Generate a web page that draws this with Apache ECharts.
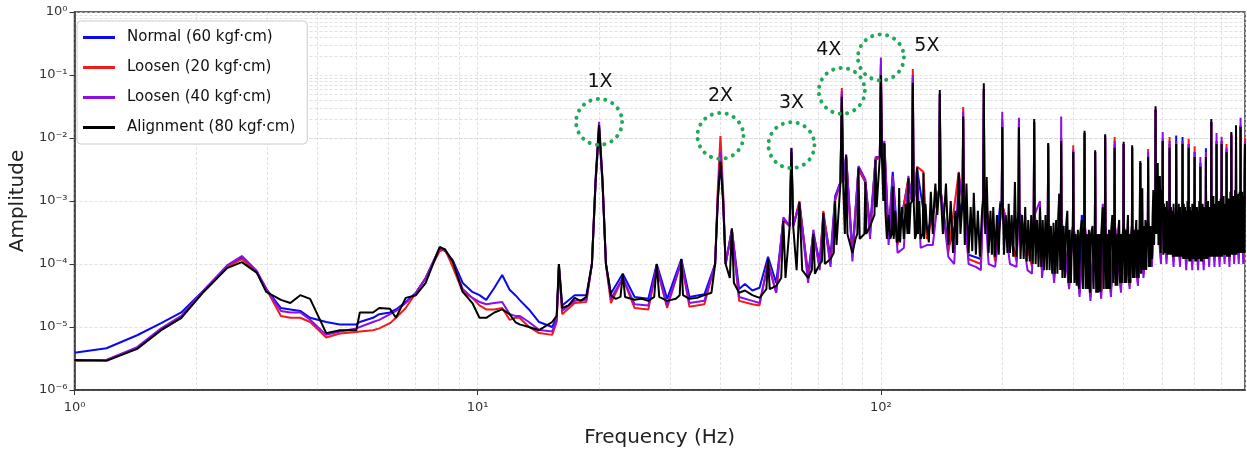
<!DOCTYPE html>
<html>
<head>
<meta charset="utf-8">
<script src="https://cdn.jsdelivr.net/npm/echarts@6/dist/echarts.min.js"></script>
<style>
  html, body { margin: 0; padding: 0; background: #fff; }
  #chart { width: 1247px; height: 454px; }
</style>
</head>
<body>
<div id="chart"></div>
<script>
// low frequency part, shared grid (Hz)
const lowFreq = [1, 1.2, 1.43, 1.64, 1.84, 2.09, 2.39, 2.6, 2.83, 2.99, 3.25, 3.43, 3.63, 3.84, 4.21, 4.55, 5.0, 5.1, 5.5, 5.7,
  6.06, 6.27, 6.63, 7.03, 7.43, 8.05, 8.3, 8.67, 9.18, 9.7, 10.1, 10.5, 11.0, 11.5, 12.0, 12.4, 12.7, 13.4, 14.2, 15.3];

const normalLow = [3.9e-6, 4.6e-6, 7.4e-6, 1.15e-5, 1.7e-5, 3.8e-5, 9e-5, 1.25e-4, 7.5e-5, 4e-5, 2e-5, 1.9e-5, 1.8e-5, 1.4e-5, 1.2e-5, 1.1e-5, 1.1e-5, 1.2e-5, 1.4e-5, 1.6e-5,
  1.7e-5, 1.9e-5, 2.5e-5, 3.5e-5, 6e-5, 1.8e-4, 1.6e-4, 1.15e-4, 5e-5, 3.6e-5, 3.2e-5, 2.7e-5, 4.2e-5, 6.7e-5, 3.9e-5, 3.2e-5, 2.7e-5, 1.9e-5, 1.2e-5, 1e-5];
const loose20Low = [2.9e-6, 3.0e-6, 4.6e-6, 9e-6, 1.4e-5, 3.7e-5, 9e-5, 1.2e-4, 7.5e-5, 4e-5, 1.5e-5, 1.4e-5, 1.4e-5, 1.2e-5, 6.8e-6, 7.9e-6, 8.3e-6, 8.5e-6, 8.9e-6, 9.5e-6,
  1.15e-5, 1.4e-5, 2e-5, 3.5e-5, 6e-5, 1.6e-4, 1.7e-4, 9e-5, 3.6e-5, 2.9e-5, 2.2e-5, 1.9e-5, 1.9e-5, 2e-5, 1.3e-5, 1.4e-5, 1.4e-5, 1e-5, 8e-6, 7.5e-6];
const loose40Low = [2.9e-6, 3.0e-6, 4.8e-6, 9.5e-6, 1.5e-5, 3.8e-5, 9.5e-5, 1.34e-4, 7.8e-5, 4e-5, 1.8e-5, 1.7e-5, 1.7e-5, 1.3e-5, 7.5e-6, 8.5e-6, 9.5e-6, 1e-5, 1.2e-5, 1.3e-5,
  1.6e-5, 1.8e-5, 2.4e-5, 3.5e-5, 6e-5, 1.8e-4, 1.65e-4, 1.1e-4, 4e-5, 2.9e-5, 2.5e-5, 2.3e-5, 2.4e-5, 2.5e-5, 1.6e-5, 1.5e-5, 1.5e-5, 1.2e-5, 9e-6, 8.5e-6];
const alignLow = [3.0e-6, 2.9e-6, 4.5e-6, 8.9e-6, 1.4e-5, 3.6e-5, 8.6e-5, 1.07e-4, 7.3e-5, 3.6e-5, 2.7e-5, 2.4e-5, 3.2e-5, 2.8e-5, 8.0e-6, 8.9e-6, 8.9e-6, 1.7e-5, 1.7e-5, 2.0e-5,
  1.95e-5, 1.4e-5, 2.9e-5, 3.2e-5, 5e-5, 1.87e-4, 1.7e-4, 1.1e-4, 3.6e-5, 2.4e-5, 1.4e-5, 1.4e-5, 1.7e-5, 1.9e-5, 1.6e-5, 1.2e-5, 1.1e-5, 1.0e-5, 8.9e-6, 1.2e-5];

// harmonic region, [freq Hz, amplitude]
const normalHigh = [[15.7,1.4e-5],[15.9,1e-4],[16.2,2.2e-5],[17.4,3.2e-5],[18.6,3.2e-5],[19.2,1e-4],[19.6,1.8e-3],[20,1.4e-2],[20.4,1.8e-3],[20.8,1e-4],[21.4,3.4e-5],[22.9,7e-5],[24.5,3e-5],[26.5,2.8e-5],[27.8,1e-4],[29.5,2.8e-5],[32,1.2e-4],[33.5,3e-5],[36.5,3.3e-5],[38.8,1e-4],[39.4,1.1e-3],[40,5e-3],[40.6,1.1e-3],[41.2,1e-4],[42.7,3.5e-4],[44.5,4e-5],[46,4.8e-5],[48,3.8e-5],[50,4.2e-5],[52.5,1.3e-4],[55,5e-5],[57.3,5e-4],[59.4,4e-4],[60,5.5e-3],[60.6,4e-4],[62.8,9e-4],[66,7e-5],[68,3e-4],[70.5,1.1e-4],[72,6e-4],[75,1.3e-4],[77,1.2e-3],[79.4,2e-3],[80,5e-2],[80.6,2e-3],[82,5e-3],[85,1.6e-4],[88,3.2e-3],[91.5,2e-3],[94,4e-4],[97,4.5e-3],[99.4,5e-3],[100,0.14],[100.6,5e-3],[102,8e-3],[104.5,3e-4],[107,2.9e-3],[110,2.5e-4],[117,2.2e-3],[119.4,1e-3],[120,9e-2],[120.6,1e-3],[123,3.2e-3],[130,3e-4],[139.4,1.5e-3],[140,5e-2],[140.6,1.5e-3],[147,1.8e-4],[159.4,1e-3],[160,2e-2],[160.6,1e-3],[165,1.4e-4],[177,1.2e-4],[179.4,1.2e-3],[180,6e-2],[180.6,1.2e-3],[192,1.3e-4],[198,1e-3],[199.4,8e-4],[200,1.8e-2],[200.6,8e-4],[217,1.2e-4],[219.4,7e-4],[220,2e-2],[220.6,7e-4],[237,1e-4],[239.4,6e-4],[240,1.8e-2],[240.6,6e-4],[251,9e-5],[259.4,5e-4],[260,7.5e-3],[260.6,5e-4],[269,7e-5],[279.4,5e-4],[280,1e-2],[280.6,5e-4],[293,5e-5],[299.4,4e-4],[300,6e-3],[300.6,4e-4],[311,4e-5],[315,6e-4],[319.4,4e-4],[320,1.2e-2],[320.6,4e-4],[331,3.6e-5],[339.4,3e-4],[340,6e-3],[340.6,3e-4],[352,3.8e-5],[359.4,4e-4],[360,1e-2],[360.6,4e-4],[372,4e-5],[379.4,4e-4],[380,8e-3],[380.6,4e-4],[394,5e-5],[399.4,4e-4],[400,8e-3],[400.6,4e-4],[414,5e-5],[419.4,4e-4],[420,7e-3],[420.6,4e-4],[434,6e-5],[439.4,4e-4],[440,4e-3],[440.6,4e-4],[448,8e-5],[459.4,5e-4],[460,5.5e-3],[460.6,5e-4],[470,1.1e-4],[479.4,1.5e-3],[480,2.8e-2],[480.6,1.5e-3],[495,1.4e-4],[499.4,1e-3],[500,9e-3],[500.6,1e-3],[511,1.4e-4],[519.4,8e-4],[520,8e-3],[520.6,8e-4],[532,1.3e-4],[539.4,8e-4],[540,1.1e-2],[540.6,8e-4],[552,1.3e-4],[559.4,8e-4],[560,1.04e-2],[560.6,8e-4],[572,1.2e-4],[579.4,8e-4],[580,8e-3],[580.6,8e-4],[592,1.2e-4],[599.4,7e-4],[600,6e-3],[600.6,7e-4],[612,1.2e-4],[619.4,6e-4],[620,4e-3],[620.6,6e-4],[632,1.2e-4],[639.4,7e-4],[640,6.9e-3],[640.6,7e-4],[652,1.3e-4],[659.4,1e-3],[660,1.8e-2],[660.6,1e-3],[672,1.3e-4],[679.4,8e-4],[680,9e-3],[680.6,8e-4],[692,1.3e-4],[699.4,9e-4],[700,9e-3],[700.6,9e-4],[712,1.4e-4],[719.4,8e-4],[720,6.5e-3],[720.6,8e-4],[732,1.3e-4],[739.4,1e-3],[740,1.1e-2],[740.6,1e-3],[752,1.4e-4],[759.4,1.2e-3],[760,1.4e-2],[760.6,1.2e-3],[772,1.4e-4],[779.4,1.3e-3],[780,1.6e-2],[780.6,1.3e-3],[792,1.4e-4],[800,9e-3]];

const loose20High = [[15.7,1.2e-5],[15.9,9e-5],[16.2,1.6e-5],[17.4,2.4e-5],[18.6,2.5e-5],[19.2,1e-4],[19.6,2e-3],[20,1.5e-2],[20.4,2e-3],[20.8,1e-4],[21.4,2.4e-5],[22.9,6e-5],[24.5,2e-5],[26.5,1.9e-5],[27.8,9e-5],[29.5,2e-5],[32,1.1e-4],[33.5,2.1e-5],[36.5,2.3e-5],[38.8,1e-4],[39.4,1.5e-3],[40,1.07e-2],[40.6,1.5e-3],[41.2,1e-4],[42.7,3.5e-4],[44.5,2.6e-5],[48,2.3e-5],[50,2.2e-5],[52.5,1.1e-4],[55,3.5e-5],[57.3,5e-4],[59.4,4e-4],[60,6e-3],[60.6,4e-4],[62.8,1e-3],[66,6e-5],[68,3e-4],[70.5,9e-5],[72,7e-4],[75,1e-4],[77,1e-3],[79.4,2e-3],[80,6.2e-2],[80.6,2e-3],[82,5e-3],[85,1.3e-4],[88,3.3e-3],[91.5,2e-3],[94,3e-4],[97,4.5e-3],[99.4,5e-3],[100,0.15],[100.6,5e-3],[102,8e-3],[104.5,2.5e-4],[107,2e-3],[110,2e-4],[117,2.3e-3],[119.4,1e-3],[120,0.124],[120.6,1e-3],[123,3.5e-3],[127.5,2.9e-3],[130,2.5e-4],[139.4,1.5e-3],[140,5e-2],[140.6,1.5e-3],[147,1.5e-4],[156,2.9e-3],[159.4,1e-3],[160,3.1e-2],[160.6,1e-3],[165,1.2e-4],[177,1e-4],[179.4,1.2e-3],[180,6e-2],[180.6,1.2e-3],[192,1.1e-4],[199.4,8e-4],[200,2e-2],[200.6,8e-4],[217,1.1e-4],[219.4,7e-4],[220,1.6e-2],[220.6,7e-4],[237,9e-5],[239.4,6e-4],[240,1.8e-2],[240.6,6e-4],[251,8e-5],[259.4,5e-4],[260,7.5e-3],[260.6,5e-4],[269,6e-5],[279.4,5e-4],[280,1e-2],[280.6,5e-4],[293,4.5e-5],[299.4,4e-4],[300,7.7e-3],[300.6,4e-4],[311,3.5e-5],[319.4,4e-4],[320,1.1e-2],[320.6,4e-4],[331,3e-5],[339.4,3e-4],[340,6e-3],[340.6,3e-4],[352,3.2e-5],[359.4,4e-4],[360,1e-2],[360.6,4e-4],[372,3.5e-5],[379.4,4e-4],[380,1.04e-2],[380.6,4e-4],[394,4e-5],[399.4,4e-4],[400,8e-3],[400.6,4e-4],[414,4.5e-5],[419.4,4e-4],[420,7e-3],[420.6,4e-4],[434,5e-5],[439.4,4e-4],[440,4e-3],[440.6,4e-4],[448,7e-5],[459.4,5e-4],[460,6.7e-3],[460.6,5e-4],[470,1e-4],[479.4,1.5e-3],[480,2.8e-2],[480.6,1.5e-3],[495,1.2e-4],[499.4,1e-3],[500,1e-2],[500.6,1e-3],[511,1.2e-4],[519.4,8e-4],[520,1.04e-2],[520.6,8e-4],[532,1.1e-4],[539.4,8e-4],[540,8.5e-3],[540.6,8e-4],[552,1.1e-4],[559.4,8e-4],[560,8.5e-3],[560.6,8e-4],[572,1e-4],[579.4,8e-4],[580,9.7e-3],[580.6,8e-4],[592,1e-4],[599.4,7e-4],[600,7.4e-3],[600.6,7e-4],[612,1e-4],[619.4,6e-4],[620,4e-3],[620.6,6e-4],[632,1e-4],[639.4,7e-4],[640,5.5e-3],[640.6,7e-4],[652,1.1e-4],[659.4,1e-3],[660,1.8e-2],[660.6,1e-3],[672,1.1e-4],[679.4,8e-4],[680,9e-3],[680.6,8e-4],[692,1.1e-4],[699.4,9e-4],[700,9e-3],[700.6,9e-4],[712,1.2e-4],[719.4,8e-4],[720,8e-3],[720.6,8e-4],[732,1.1e-4],[739.4,1e-3],[740,1.1e-2],[740.6,1e-3],[752,1.2e-4],[759.4,1.2e-3],[760,1.4e-2],[760.6,1.2e-3],[772,1.2e-4],[779.4,1.3e-3],[780,1.6e-2],[780.6,1.3e-3],[792,1.2e-4],[800,1e-2]];

const loose40High = [[15.7,1.3e-5],[15.9,9e-5],[16.2,1.8e-5],[17.4,2.6e-5],[18.6,2.7e-5],[19.2,1.0e-4],[19.6,2.2e-3],[20,1.8e-2],[20.4,2.2e-3],[20.8,1e-4],[21.4,2.8e-5],[22.9,6e-5],[24.5,2.3e-5],[26.5,2.2e-5],[27.8,9e-5],[29.5,2.2e-5],[32,1.1e-4],[33.5,2.4e-5],[36.5,2.6e-5],[38.8,1e-4],[39.4,1.2e-3],[40,6e-3],[40.6,1.2e-3],[41.2,1e-4],[42.7,3.5e-4],[44.5,3e-5],[48,2.6e-5],[50,2.4e-5],[52.5,1e-4],[55,3.5e-5],[57.3,5.5e-4],[59.4,4e-4],[60,7e-3],[60.6,4e-4],[62.8,9e-4],[66,5e-5],[68,3.5e-4],[70.5,8e-5],[72,6e-4],[75,9e-5],[77,1.1e-3],[79.4,2e-3],[80,5.5e-2],[80.6,2e-3],[82,5.5e-3],[85,1.1e-4],[88,3.6e-3],[91.5,2.2e-3],[94,2.5e-4],[97,5e-3],[99.4,5e-3],[100,0.19],[100.6,5e-3],[102,9e-3],[104.5,2e-4],[107,2.5e-3],[110,1.5e-4],[114,1.8e-4],[117,2.5e-3],[119.4,1e-3],[120,0.1],[120.6,1e-3],[123,3e-3],[125.5,1.8e-4],[130,2e-4],[134.5,2e-4],[139.4,1.5e-3],[140,5e-2],[140.6,1.5e-3],[147,1.3e-4],[152,1e-4],[156,2.5e-3],[159.4,1e-3],[160,2.6e-2],[160.6,1e-3],[165,1e-4],[172,9e-5],[177,8e-5],[179.4,1.2e-3],[180,6e-2],[180.6,1.2e-3],[185,1e-4],[192,9e-5],[199.4,8e-4],[200,2.6e-2],[200.6,8e-4],[209,1e-4],[217,9e-5],[219.4,7e-4],[220,2.1e-2],[220.6,7e-4],[231,8e-5],[237,7e-5],[239.4,6e-4],[240,1.8e-2],[240.6,6e-4],[248,1e-3],[251,6e-5],[259.4,5e-4],[260,8e-3],[260.6,5e-4],[269,5e-5],[277,1.3e-3],[279.4,5e-4],[280,2.2e-2],[280.6,5e-4],[293,4e-5],[299.4,4e-4],[300,6.5e-3],[300.6,4e-4],[311,3e-5],[319.4,4e-4],[320,1.2e-2],[320.6,4e-4],[331,2.6e-5],[339.4,3e-4],[340,6e-3],[340.6,3e-4],[352,2.8e-5],[355,9e-4],[359.4,4e-4],[360,1.1e-2],[360.6,4e-4],[372,3e-5],[379.4,4e-4],[380,9e-3],[380.6,4e-4],[394,3.5e-5],[399.4,4e-4],[400,8e-3],[400.6,4e-4],[414,4e-5],[419.4,4e-4],[420,7e-3],[420.6,4e-4],[434,4.5e-5],[439.4,4e-4],[440,4e-3],[440.6,4e-4],[448,6e-5],[459.4,5e-4],[460,6e-3],[460.6,5e-4],[470,9e-5],[479.4,1.5e-3],[480,2.8e-2],[480.6,1.5e-3],[495,1e-4],[499.4,1e-3],[500,1.25e-2],[500.6,1e-3],[511,1e-4],[519.4,8e-4],[520,9e-3],[520.6,8e-4],[532,9e-5],[539.4,8e-4],[540,9e-3],[540.6,8e-4],[552,9e-5],[559.4,8e-4],[560,9e-3],[560.6,8e-4],[572,8e-5],[579.4,8e-4],[580,8e-3],[580.6,8e-4],[592,8e-5],[599.4,7e-4],[600,6e-3],[600.6,7e-4],[612,8e-5],[619.4,6e-4],[620,5e-3],[620.6,6e-4],[632,8e-5],[639.4,7e-4],[640,6e-3],[640.6,7e-4],[652,9e-5],[659.4,1e-3],[660,1.8e-2],[660.6,1e-3],[672,9e-5],[679.4,8e-4],[680,1.2e-2],[680.6,8e-4],[692,9e-5],[699.4,9e-4],[700,1.05e-2],[700.6,9e-4],[712,1e-4],[719.4,8e-4],[720,7e-3],[720.6,8e-4],[732,9e-5],[739.4,1e-3],[740,1.2e-2],[740.6,1e-3],[752,1e-4],[759.4,1.2e-3],[760,1.5e-2],[760.6,1.2e-3],[772,1e-4],[779.4,1.3e-3],[780,2.1e-2],[780.6,1.3e-3],[792,1e-4],[800,9e-3]];

const alignHigh = [[15.7,1.5e-5],[15.9,1.0e-4],[16.2,2.0e-5],[16.8,2.2e-5],[17.4,2.9e-5],[18.0,2.6e-5],[18.6,3.0e-5],[19.2,1.0e-4],[19.6,2.0e-3],[20.0,1.6e-2],[20.4,2.0e-3],[20.8,1.0e-4],[21.4,3.2e-5],[22.0,2.8e-5],[22.6,3.0e-5],[22.9,7.0e-5],[23.2,3.0e-5],[24.5,2.7e-5],[25.5,2.8e-5],[26.5,2.6e-5],[27.4,3.0e-5],[27.8,1.0e-4],[28.2,3.0e-5],[29.5,2.6e-5],[31.0,2.8e-5],[31.7,3.2e-5],[32.0,1.2e-4],[32.3,3.2e-5],[33.5,2.8e-5],[35.0,2.9e-5],[36.5,3.2e-5],[38.0,3.5e-5],[38.8,1.0e-4],[39.4,1.0e-3],[40.0,4.2e-3],[40.6,1.0e-3],[41.2,1.0e-4],[42.2,6.0e-5],[42.7,3.7e-4],[43.2,5.0e-5],[44.5,3.5e-5],[46.0,3.8e-5],[48.0,3.2e-5],[50.0,2.9e-5],[52.0,4e-5],[52.5,1.2e-4],[53.0,4e-5],[55.0,4.5e-5],[56.6,6e-5],[57.3,4.8e-4],[58.0,6e-5],[59.4,4e-4],[60.0,6.9e-3],[60.6,4e-4],[61.8,8e-5],[62.8,9.6e-4],[63.8,8e-5],[66.0,6e-5],[67.4,8e-5],[68.0,3e-4],[68.6,7e-5],[70.5,1e-4],[71.4,1.1e-4],[72.0,6.5e-4],[72.6,1.0e-4],[75.0,1.2e-4],[76.4,1.5e-4],[77.0,1.0e-3],[77.6,2e-4],[79.4,2e-3],[80.0,4.5e-2],[80.6,2e-3],[81.4,3e-4],[82.0,5.3e-3],[82.6,3e-4],[85.0,1.5e-4],[86.5,2.5e-4],[87.4,3e-4],[88.0,3.4e-3],[88.6,2.5e-4],[91.0,3e-4],[91.5,2e-3],[92.0,3e-4],[94.0,4e-4],[96.4,6e-4],[97.0,4.5e-3],[97.6,8e-4],[99.4,5e-3],[100,0.1],[100.6,5e-3],[101.4,1e-3],[102,8.3e-3],[102.6,7e-4],[103.5,2.5e-4],[104.5,6e-4],[105.5,2.5e-4],[106.4,3e-4],[107,1.7e-3],[107.6,2.5e-4],[108.5,7e-4],[109.5,2.2e-4],[110.4,2.4e-4],[111,1.6e-3],[111.6,2.2e-4],[112.8,8e-4],[114,2.5e-4],[115.2,9e-4],[116.4,3e-4],[117,2.3e-3],[117.6,3e-4],[118.5,9e-4],[119.4,1e-3],[120,7.5e-2],[120.6,1e-3],[121.5,2.5e-4],[122.4,3e-4],[123,3.4e-3],[123.6,3e-4],[124.5,1e-3],[125.5,2.5e-4],[127,3e-4],[127.5,2.8e-3],[128,2.5e-4],[129,9e-4],[130,4e-4],[131.5,2.2e-4],[133,1.4e-3],[134.5,3e-4],[135.5,9e-4],[136.5,1.9e-3],[138,6e-4],[139.4,1.5e-3],[140,5.8e-2],
  [140.6,1.5e-3],[142.5,3e-4],[145,1.9e-3],[147,2e-4],[149,1e-3],[151,1.5e-4],[153,7e-4],[154.5,2e-4],[156,2.8e-3],[157.5,3e-4],[159.4,1e-3],[160,2.2e-2],
  [160.6,1e-3],[161.5,2e-4],[163,1.9e-3],[165,1.5e-4],[167,8e-4],[168.5,1.6e-4],[170,1.35e-3],[172,1.4e-4],[174,7e-4],[176,1.3e-4],[178,6e-4],[179.4,1.2e-3],[180,7.4e-2],
  [180.6,1.2e-3],[181.5,3e-4],[183,2.4e-3],[185,1.5e-4],[187,7e-4],[188.5,1.4e-4],[190,8e-4],[192,1.3e-4],[194,6e-4],[196,1.4e-4],[198,9e-4],[199.4,8e-4],[200,1.5e-2],
  [200.6,8e-4],[202,1.4e-4],[204,6e-4],[206,1.5e-4],[207.5,9e-4],[209,1.5e-4],[211,6e-4],[213,1.3e-4],[215,2e-3],[217,1.3e-4],[218.5,5e-4],[219.4,7e-4],[220,1.5e-2],
  [220.6,7e-4],[222,1.2e-4],[224,6e-4],[226,1.2e-4],[228,8e-4],[230,1.1e-4],[232,5e-4],[234,1.1e-4],[236,6e-4],[238,1e-4],[239.4,6e-4],[240,2.0e-2],
  [240.6,6e-4],[242,1e-4],[244,5e-4],[246,9e-5],[248,8e-4],[250,9e-5],[252,5e-4],[254,8e-5],[256,6e-4],[258,8e-5],[259.4,5e-4],[260,8.3e-3],
  [260.6,5e-4],[262,8e-5],[264,4e-4],[266,7e-5],[268,4.5e-4],[270,7e-5],[272,5e-4],[274,7e-5],[277,1.3e-3],[278.5,8e-5],[279.4,5e-4],[280,9e-3],
  [280.6,5e-4],[282,6e-5],[284,4e-4],[286,6e-5],[288,4e-4],[290,7e-4],[292,5e-5],[294,3.5e-4],[296,5e-5],[298,3e-4],[299.4,4e-4],[300,6e-3],
  [300.6,4e-4],[302,5e-5],[304,3e-4],[306,4.5e-5],[308,3.5e-4],[310,4e-5],[312,3e-4],[315,5e-4],[317,4e-5],[318.5,3e-4],[319.4,4e-4],[320,1.3e-2],
  [320.6,4e-4],[322,4e-5],[324,3e-4],[326,4e-5],[328,3.5e-4],[330,3.5e-5],[332,3e-4],[335,4e-4],[337,4e-5],[338.5,2.5e-4],[339.4,3e-4],[340,6.4e-3],
  [340.6,3e-4],[342,3.5e-5],[344,3e-4],[346,3.5e-5],[348,3e-4],[350,3.6e-5],[352,3e-4],[355,8e-4],[357,4e-5],[358.5,3e-4],[359.4,4e-4],[360,1.15e-2],
  [360.6,4e-4],[362,4e-5],[364,3e-4],[366,4e-5],[368,3.5e-4],[370,4e-5],[372,3e-4],[375,6e-4],[377,5e-5],[378.5,3e-4],[379.4,4e-4],[380,7e-3],
  [380.6,4e-4],[382,4.5e-5],[384,3e-4],[386,4.5e-5],[388,3.5e-4],[390,5e-4],[392,5e-5],[394,3e-4],[396,5e-5],[398,3e-4],[399.4,4e-4],[400,8.7e-3],
  [400.6,4e-4],[402,5e-5],[404,3.5e-4],[406,5e-5],[408,3e-4],[410,6e-4],[412,5e-5],[414,3e-4],[416,5e-5],[418,3e-4],[419.4,4e-4],[420,7.7e-3],
  [420.6,4e-4],[422,6e-5],[424,3.5e-4],[426,6e-5],[428,3e-4],[430,5e-4],[432,6e-5],[434,3.5e-4],[436,6e-5],[438,4e-4],[439.4,4e-4],[440,4.3e-3],
  [440.6,4e-4],[442,7e-5],[445,1.6e-3],[447,8e-5],[449,4e-4],[451,8e-5],[453,5e-4],[455,8e-5],[457,4e-4],[459.4,5e-4],[460,5e-3],
  [460.6,5e-4],[462,9e-5],[464,4e-4],[466,9e-5],[468,4e-4],[470,1.2e-4],[472,6e-4],[474,1.5e-3],[476,2e-4],[478,8e-4],[479.4,1.5e-3],[480,3.2e-2],
  [480.6,1.5e-3],[482,3e-4],[484,1.5e-3],[486,4e-3],[488,2e-4],[490,1.2e-3],[492,2.5e-3],[494,1.5e-4],[496,1e-3],[498,1.5e-3],[499.4,1e-3],[500,9e-3],
  [500.6,1e-3],[502,1.4e-4],[504,9e-4],[506,1.5e-4],[508,8e-4],[510,1.5e-4],[512,1e-3],[514,1.4e-4],[516,7e-4],[518,1.4e-4],[519.4,8e-4],[520,7e-3],
  [520.6,8e-4],[522,1.4e-4],[524,8e-4],[526,1.4e-4],[528,7e-4],[530,1.3e-4],[532,9e-4],[534,1.3e-4],[536,6e-4],[538,1.3e-4],[539.4,8e-4],[540,8e-3],
  [540.6,8e-4],[542,1.3e-4],[544,7e-4],[546,1.3e-4],[548,9e-4],[550,1.3e-4],[552,8e-4],[554,1.3e-4],[556,6e-4],[558,1.3e-4],[559.4,8e-4],[560,8e-3],
  [560.6,8e-4],[562,1.2e-4],[564,9e-4],[566,1.2e-4],[568,8e-4],[570,1.2e-4],[572,7e-4],[574,1.2e-4],[576,1e-3],[578,1.2e-4],[579.4,8e-4],[580,7e-3],
  [580.6,8e-4],[582,1.1e-4],[584,8e-4],[586,1.1e-4],[588,7e-4],[590,1.2e-4],[592,9e-4],[594,1.2e-4],[596,9e-4],[598,1.2e-4],[599.4,7e-4],[600,5e-3],
  [600.6,7e-4],[602,1.1e-4],[604,8e-4],[606,1.1e-4],[608,8e-4],[610,1.2e-4],[612,7e-4],[614,1.2e-4],[616,1e-3],[618,1.2e-4],[619.4,6e-4],[620,3.5e-3],
  [620.6,6e-4],[622,1.1e-4],[624,8e-4],[626,1.1e-4],[628,9e-4],[630,1.2e-4],[632,8e-4],[634,1.2e-4],[636,7e-4],[638,1.2e-4],[639.4,7e-4],[640,5e-3],
  [640.6,7e-4],[642,1.2e-4],[644,9e-4],[646,1.2e-4],[648,1e-3],[650,1.3e-4],[652,8e-4],[654,1.3e-4],[656,8e-4],[658,1.3e-4],[659.4,1e-3],[660,2e-2],
  [660.6,1e-3],[662,1.3e-4],[664,1e-3],[666,1.3e-4],[668,1.2e-3],[670,1.3e-4],[672,9e-4],[674,1.3e-4],[676,9e-4],[678,1.3e-4],[679.4,8e-4],[680,8e-3],
  [680.6,8e-4],[682,1.3e-4],[684,9e-4],[686,1.3e-4],[688,1e-3],[690,1.3e-4],[692,1e-3],[694,1.3e-4],[696,1.1e-3],[698,1.3e-4],[699.4,9e-4],[700,8e-3],
  [700.6,9e-4],[702,1.3e-4],[704,1e-3],[706,1.4e-4],[708,1.2e-3],[710,1.4e-4],[712,9e-4],[714,1.4e-4],[716,9e-4],[718,1.4e-4],[719.4,8e-4],[720,6e-3],
  [720.6,8e-4],[722,1.3e-4],[724,1e-3],[726,1.3e-4],[728,1.1e-3],[730,1.3e-4],[732,1e-3],[734,1.3e-4],[736,1.4e-3],[738,1.4e-4],[739.4,1e-3],[740,1.25e-2],
  [740.6,1e-3],[742,1.4e-4],[744,1.1e-3],[746,1.4e-4],[748,1.2e-3],[750,1.4e-4],[752,1e-3],[754,1.4e-4],[756,1.5e-3],[758,1.4e-4],[759.4,1.2e-3],[760,1.6e-2],
  [760.6,1.2e-3],[762,1.4e-4],[764,1.1e-3],[766,1.5e-4],[768,1.3e-3],[770,1.5e-4],[772,1.1e-3],[774,1.5e-4],[776,1.4e-3],[778,1.5e-4],[779.4,1.3e-3],[780,1.5e-2],
  [780.6,1.3e-3],[782,1.5e-4],[784,1.2e-3],[786,1.5e-4],[788,1.4e-3],[790,1.5e-4],[792,1.1e-3],[794,1.5e-4],[796,1.2e-3],[798,1.5e-4],[799.4,1e-3],[800,8e-3]];

// circled harmonics
const harmonicNames = ['1X', '2X', '3X', '4X', '5X'];
const harmonicFreq = [20, 40, 60, 80, 100];
const harmonicAmp = [1.8e-2, 1.08e-2, 7.7e-3, 5.6e-2, 0.19];
const harmonicLabelOffset = [[1, -40], [0, -40], [0, -42], [-13, -41], [46, -11]];

const seriesNames = ['Normal (60 kgf·cm)', 'Loosen (20 kgf·cm)', 'Loosen (40 kgf·cm)', 'Alignment (80 kgf·cm)'];
const seriesColors = ['#0a0af0', '#ee1c1c', '#8c10e6', '#000000'];

const supDigits = { '0': '⁰', '1': '¹', '2': '²', '3': '³', '4': '⁴', '5': '⁵', '6': '⁶', '-': '⁻' };
function powLabel(v) {
  const e = Math.log10(v);
  if (Math.abs(e - Math.round(e)) > 1e-6) return '';
  return '10' + String(Math.round(e)).split('').map(c => supDigits[c]).join('');
}

// minor grid positions (2..9 per decade)
const xMinor = [], yMinor = [];
for (let d = 0; d <= 2; d++) for (let k = 2; k <= 9; k++) { const v = k * Math.pow(10, d); if (v < 800) xMinor.push(v); }
for (let d = -6; d <= -1; d++) for (let k = 2; k <= 9; k++) yMinor.push(k * Math.pow(10, d));

const joined = [
  lowFreq.map((f, i) => [f, normalLow[i]]).concat(normalHigh),
  lowFreq.map((f, i) => [f, loose20Low[i]]).concat(loose20High),
  lowFreq.map((f, i) => [f, loose40Low[i]]).concat(loose40High),
  lowFreq.map((f, i) => [f, alignLow[i]]).concat(alignHigh)
];

const font = 'DejaVu Sans';
const gridLine = { color: '#d9d9d9', width: 0.8, type: [3, 2] };

const chart = echarts.init(document.getElementById('chart'));
chart.setOption({
  animation: false,
  backgroundColor: '#fff',
  textStyle: { fontFamily: font },
  grid: { left: 70, right: 2, top: 12, bottom: 64, show: true, borderColor: '#333', borderWidth: 1.5, containLabel: false },
  legend: {
    data: seriesNames,
    orient: 'vertical',
    left: 77, top: 21, z: 20,
    padding: [8, 12, 8, 6],
    itemWidth: 32, itemHeight: 3, itemGap: 13,
    icon: 'rect',
    backgroundColor: '#ffffff',
    borderColor: '#cccccc', borderWidth: 1, borderRadius: 4,
    textStyle: { fontFamily: font, fontSize: 15, color: '#111', padding: [0, 0, 0, 7], lineHeight: 17 }
  },
  xAxis: {
    type: 'log', logBase: 10, min: 1, max: 800,
    name: 'Frequency (Hz)', nameLocation: 'middle', nameGap: 38,
    nameTextStyle: { fontFamily: font, fontSize: 20, color: '#222' },
    axisLine: { lineStyle: { color: '#333', width: 1.5 } },
    axisTick: { show: true, length: 5, lineStyle: { color: '#333' } },
    axisLabel: { formatter: powLabel, fontSize: 13, color: '#333', margin: 11, showMaxLabel: false },
    splitLine: { show: true, lineStyle: gridLine }
  },
  yAxis: {
    type: 'log', logBase: 10, min: 1e-6, max: 1,
    name: 'Amplitude', nameLocation: 'middle', nameGap: 40,
    nameTextStyle: { fontFamily: font, fontSize: 20, color: '#222' },
    axisLine: { show: true, lineStyle: { color: '#333', width: 1.5 } },
    axisTick: { show: true, length: 5, lineStyle: { color: '#333' } },
    axisLabel: { formatter: powLabel, fontSize: 13, color: '#333', margin: 7 },
    splitLine: { show: true, lineStyle: gridLine }
  },
  series: [
    {
      type: 'line', name: 'grid', data: [], z: 1, silent: true,
      markLine: {
        z: 0, silent: true, symbol: 'none', animation: false,
        label: { show: false },
        lineStyle: gridLine,
        data: xMinor.map(v => ({ xAxis: v })).concat(yMinor.map(v => ({ yAxis: v })))
      }
    }
  ].concat(joined.map((d, i) => ({
    type: 'line', name: seriesNames[i], data: d, z: 2 + i,
    showSymbol: false, symbol: 'none', smooth: false,
    lineStyle: { color: seriesColors[i], width: 2 },
    itemStyle: { color: seriesColors[i] },
    emphasis: { disabled: true }
  }))).concat([
    {
      type: 'line', name: 'harmonics', data: [], z: 10, silent: true,
      markPoint: {
        z: 10, silent: true, animation: false,
        data: harmonicNames.map((n, i) => ({
          coord: [harmonicFreq[i], harmonicAmp[i]],
          symbol: 'circle', symbolSize: 46,
          itemStyle: { color: 'rgba(0,0,0,0)', borderColor: '#22a85a', borderWidth: 4, borderType: [0.1, 7.5], borderCap: 'round' },
          label: { show: true, formatter: n, position: 'inside', offset: harmonicLabelOffset[i], fontSize: 19, color: '#111', fontFamily: font }
        }))
      }
    }
  ])
});
</script>
</body>
</html>
